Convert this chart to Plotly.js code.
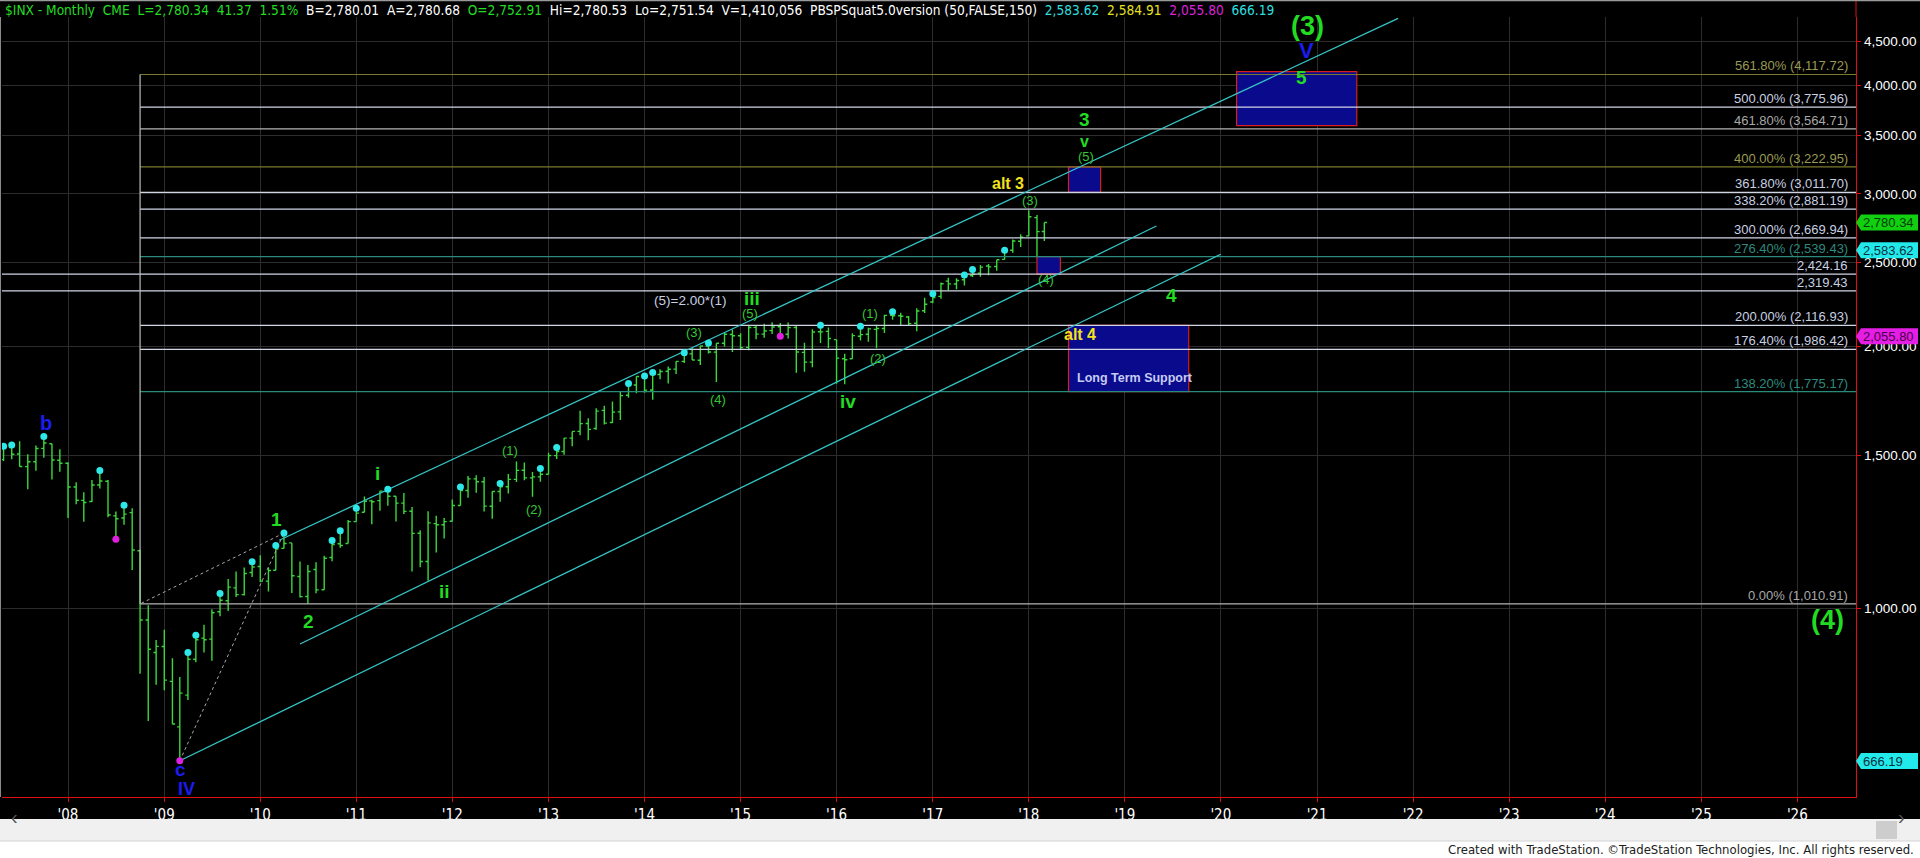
<!DOCTYPE html>
<html><head><meta charset="utf-8">
<script src="https://cdn.plot.ly/plotly-3.0.1.min.js"></script>
<style>html,body{margin:0;padding:0;background:#000;overflow:hidden}#chart{width:1920px;height:858px}</style>
</head><body><div id="chart"></div>
<script>
// ---------- DATA ----------
const firstMonth = [2007, 5];
const openP = [1482.37,1530.62,1504.66,1455.18,1473.96,1527.29,1545.79,1479.63,
1467.97,1378.60,1330.45,1326.41,1385.97,1399.62,1276.69,1269.42,1287.83,1164.17,968.67,888.61,
902.99,823.09,729.57,793.59,872.74,923.26,920.82,990.22,1019.52,1054.91,1036.18,1098.89,
1116.56,1073.89,1105.36,1171.23,1188.58,1087.30,1031.10,1107.53,1049.72,1143.49,1185.71,1186.60,
1257.62,1289.14,1328.64,1329.48,1365.21,1345.20,1320.64,1292.59,1219.12,1131.21,1251.00,1246.91,
1258.86,1312.45,1365.90,1408.47,1397.86,1309.87,1362.33,1379.32,1406.54,1440.90,1412.20,1416.18,
1426.19,1498.11,1514.68,1569.18,1597.55,1631.71,1609.78,1689.42,1635.95,1682.41,1758.70,1806.55,
1845.86,1782.68,1857.68,1873.96,1884.39,1923.87,1962.29,1929.80,2004.07,1971.44,2018.21,2065.78,
2058.90,1996.67,2105.23,2067.63,2087.38,2108.64,2067.00,2104.49,1970.09,1919.65,2080.76,2082.93,
2038.20,1936.94,1937.09,2056.62,2067.17,2093.94,2099.34,2173.15,2171.33,2164.33,2128.68,2200.17,
2251.57,2285.59,2380.13,2362.34,2388.50,2415.65,2431.39,2477.10,2474.42,2521.20,2583.21,2645.10,
2683.73,2816.45,2715.22];
const highP = [1535.56,1540.56,1555.90,1503.89,1538.74,1576.09,1545.79,1523.57,
1471.77,1396.02,1359.68,1404.06,1440.24,1404.05,1292.17,1313.15,1303.04,1167.03,1007.51,918.85,
943.85,875.01,832.98,888.70,930.17,956.23,996.68,1039.47,1080.15,1101.36,1113.69,1130.38,
1150.45,1112.42,1180.16,1219.80,1188.58,1131.23,1120.95,1129.24,1148.90,1196.14,1227.08,1262.60,
1302.67,1344.07,1332.28,1364.56,1370.58,1345.20,1356.48,1307.38,1229.29,1292.66,1277.55,1269.37,
1333.47,1378.04,1419.15,1422.38,1415.32,1363.46,1391.74,1426.68,1474.51,1470.96,1434.27,1448.00,
1509.94,1530.94,1570.28,1597.57,1687.18,1654.19,1698.78,1709.67,1729.86,1775.22,1813.55,1849.44,
1850.84,1867.92,1883.97,1897.28,1924.03,1968.17,1991.39,2005.04,2019.26,2018.19,2075.76,2093.55,
2072.36,2119.59,2117.52,2125.92,2134.72,2129.87,2132.82,2112.66,2020.86,2094.32,2116.48,2104.27,
2038.20,1962.96,2072.21,2111.05,2103.48,2120.55,2177.09,2193.81,2187.87,2169.60,2214.10,2277.53,
2300.99,2371.54,2400.98,2398.16,2418.71,2453.82,2484.04,2490.87,2519.44,2582.98,2657.74,2694.97,
2872.87,2835.96,2780.53];
const lowP = [1476.70,1484.18,1454.25,1370.60,1439.29,1489.56,1406.10,1435.65,
1270.05,1316.75,1256.98,1324.35,1373.07,1272.00,1200.44,1247.45,1106.42,839.80,741.02,815.69,
804.22,734.52,666.79,783.32,866.10,888.86,869.32,978.51,991.97,1029.38,1033.38,1085.89,
1071.59,1044.50,1105.36,1170.69,1040.78,1028.33,1010.91,1039.70,1049.72,1131.87,1173.00,1186.60,
1257.62,1289.14,1249.05,1294.70,1311.80,1258.07,1282.86,1101.54,1114.22,1074.77,1158.66,1202.37,
1258.86,1312.45,1340.03,1357.38,1291.98,1266.74,1325.41,1354.65,1396.56,1403.28,1343.35,1398.11,
1426.19,1485.01,1501.48,1536.03,1581.28,1560.33,1604.57,1627.47,1633.41,1646.47,1746.20,1767.99,
1770.45,1737.92,1834.44,1814.36,1859.79,1915.98,1930.67,1904.78,1964.04,1820.66,2001.01,1972.56,
1988.12,1980.90,2039.69,2048.38,2067.93,2056.32,2044.02,1867.01,1871.91,1893.70,2019.39,1993.26,
1812.29,1810.10,1937.09,2033.80,2025.91,1991.68,2074.02,2147.58,2119.12,2114.72,2083.79,2187.44,
2245.13,2271.65,2322.25,2328.95,2352.72,2405.70,2407.70,2417.35,2446.55,2520.40,2566.17,2605.52,
2682.36,2532.69,2647.32];
const closeP = [1530.62,1503.35,1455.27,1473.99,1526.75,1549.38,1481.14,1468.36,
1378.55,1330.63,1322.70,1385.59,1400.38,1280.00,1267.38,1282.83,1166.36,968.75,896.24,903.25,
825.88,735.09,797.87,872.81,919.14,919.32,987.48,1020.62,1057.08,1036.19,1095.63,1115.10,
1073.87,1104.49,1169.43,1186.69,1089.41,1030.71,1101.60,1049.33,1141.20,1183.26,1180.55,1257.64,
1286.12,1327.22,1325.83,1363.61,1345.20,1320.64,1292.28,1218.89,1131.42,1253.30,1246.96,1257.60,
1312.41,1365.68,1408.47,1397.91,1310.33,1362.16,1379.32,1406.58,1440.67,1412.16,1416.18,1426.19,
1498.11,1514.68,1569.19,1597.57,1630.74,1606.28,1685.73,1632.97,1681.55,1756.54,1805.81,1848.36,
1782.59,1859.45,1872.34,1883.95,1923.57,1960.23,1930.67,2003.37,1972.29,2018.05,2067.56,2058.90,
1994.99,2104.50,2067.89,2085.51,2107.39,2063.11,2103.84,1972.18,1920.03,2079.36,2080.41,2043.94,
1940.24,1932.23,2059.74,2065.30,2096.95,2098.86,2173.60,2170.95,2168.27,2126.15,2198.81,2238.83,
2278.87,2363.64,2362.72,2384.20,2411.80,2423.41,2470.30,2471.65,2519.36,2575.26,2647.58,2673.61,
2823.81,2713.83,2780.34];

const cyanDotMonths = ['2007-05','2007-06','2007-10','2008-05','2008-08','2009-04','2009-05','2009-08',
'2009-12','2010-03','2010-04','2010-10','2010-11','2011-01','2011-05','2012-02','2012-07','2012-12',
'2013-02','2013-11','2014-01','2014-02','2014-06','2014-09','2015-11','2016-04','2016-08','2017-01',
'2017-05','2017-06','2017-10'];
const magentaDotMonths = ['2008-07','2009-03','2015-06'];

const fibValues = [4117.72,3775.96,3564.71,3222.95,3011.70,2881.19,2669.94,2539.43,2424.16,2319.43,2116.93,1986.42,1775.17,1010.91];
const fibTexts = ['561.80% (4,117.72)','500.00% (3,775.96)','461.80% (3,564.71)','400.00% (3,222.95)',
'361.80% (3,011.70)','338.20% (2,881.19)','300.00% (2,669.94)','276.40% (2,539.43)','2,424.16','2,319.43',
'200.00% (2,116.93)','176.40% (1,986.42)','138.20% (1,775.17)','0.00% (1,010.91)'];
const fibAnchorDate = '2008-10-01';
const fibFullWidth = [false,false,false,false,false,false,false,false,true,true,false,false,false,false];
const fibKind = ['olive','light','grey','olive','light','light','light','teal','light','light','light','light','teal','grey'];

// boxes: [startDate, endDate, lowPrice, highPrice]
const boxStart = ['2020-03-01','2018-06-01','2018-02-01','2018-06-01'];
const boxEnd   = ['2021-06-01','2018-10-01','2018-05-01','2019-09-01'];
const boxLow   = [3595, 3011.70, 2424.16, 1775.17];
const boxHigh  = [4150, 3222.95, 2539.43, 2116.93];

// channel lines
const chanStartDate = ['2010-03-14','2010-06-01','2009-03-01'];
const chanStartPrice = [1197, 909, 666.79];
const chanEndDate = ['2021-11-05','2019-05-01','2020-01-01'];
const chanEndPrice = [4778, 2755, 2556];

// dotted extension legs A->B, B->C
const legDates = ['2009-03-01','2010-04-01','2008-10-01'];
const legPrices = [666.79, 1219.80, 1010.91];

// wave labels
const labelText  = ['(3)','V','5','3','v','(5)','alt 3','(3)','(4)','4','alt 4','Long Term Support','(5)=2.00*(1)',
'iii','(5)','(3)','(4)','iv','(1)','(2)','(1)','(2)','i','ii','1','2','b','c','IV','(4)'];
const labelDate  = ['2020-11-24','2020-11-20','2020-11-01','2018-08-02','2018-08-02','2018-08-07','2017-10-14','2018-01-06',
'2018-03-08','2019-06-29','2018-07-16','2019-02-08','2014-06-23','2015-02-12','2015-02-06','2014-07-09','2014-10-08',
'2016-02-12','2016-05-08','2016-06-08','2012-08-07','2012-11-06','2011-03-24','2011-12-04','2010-03-04','2010-07-02',
'2007-10-08','2009-03-03','2009-03-27','2026-04-26'];
const labelPrice = [4680,4385,4085,3650,3447,3312,3080,2951,2393,2291,2067,1839,2259,2274,2185,2076,1739,1729,2185,1940,
1520,1299,1430,1044,1263,964,1635,651,618,969];
const labelKind  = ['big','blueV','wave','wave','waveV','sub','alt','sub','sub','wave','alt','lts','note','wave','sub','sub','sub',
'wave','sub','sub','sub','sub','wave','wave','wave','wave','blue','blueC','blueIV','big'];

const yTickVals = [1000,1500,2000,2500,3000,3500,4000,4500];
const yTickText = ['1,000.00','1,500.00','2,000.00','2,500.00','3,000.00','3,500.00','4,000.00','4,500.00'];
const xTickYears = [2008,2009,2010,2011,2012,2013,2014,2015,2016,2017,2018,2019,2020,2021,2022,2023,2024,2025,2026];

const tagValues = [2780.34, 2583.62, 2055.80, 666.19];
const tagText = ['2,780.34','2,583.62','2,055.80','666.19'];
const tagKind = ['green','cyan','magenta','cyan'];

const headerParts = [
 ['$INX - Monthly\u00a0\u00a0CME\u00a0\u00a0L=2,780.34\u00a0\u00a041.37\u00a0\u00a01.51%','g'],
 ['B=2,780.01\u00a0\u00a0A=2,780.68','w'],
 ['O=2,752.91','g'],
 ['Hi=2,780.53\u00a0\u00a0Lo=2,751.54\u00a0\u00a0V=1,410,056\u00a0\u00a0PBSPSquat5.0version (50,FALSE,150)','w'],
 ['2,583.62','c'],['2,584.91','y'],['2,055.80','m'],['666.19','c']];
const footerText = 'Created with TradeStation. ©TradeStation Technologies, Inc. All rights reserved.';

// ---------- LAYOUT CONSTANTS ----------
const W=1920,H=858, ML=2, MR=64, MT=17, MB=61;
const PW=W-ML-MR, PH=H-MT-MB;
const XR=['2007-04-25','2026-08-12'];
const YR=[2.78226, 3.68088];
const NARROW="'Liberation Sans Narrow','Arial Narrow','DejaVu Sans Condensed',sans-serif";
const ARIAL="'Liberation Sans',Arial,sans-serif";
const pyPix = p => (H-MB-p)/PH;
const pxPix = p => (p-ML)/PW;
const pyVal = v => (Math.log10(v)-YR[0])/(YR[1]-YR[0]);
function fitSize(text, family, targetW){
  const c=document.createElement('canvas').getContext('2d');
  c.font='100px '+family;
  return 100*targetW/c.measureText(text).width;
}
const SEP='\u00a0\u00a0';
const headerSize = 13.6;
const footerSize = Math.min(15, fitSize(footerText, NARROW, 466));

const months = openP.map((_,i)=>{const t=firstMonth[1]-1+i; const y=firstMonth[0]+Math.floor(t/12); const m=t%12+1; return y+'-'+String(m).padStart(2,'0')+'-01';});
const idxOf = s => months.indexOf(s+'-01');

const traces=[];
for(let i=0;i<boxStart.length;i++){
  traces.push({type:'scatter',mode:'lines',x:[boxStart[i],boxEnd[i],boxEnd[i],boxStart[i],boxStart[i]],
   y:[boxLow[i],boxLow[i],boxHigh[i],boxHigh[i],boxLow[i]],fill:'toself',fillcolor:'#0a0a8c',
   line:{color:'#d81e1e',width:1.2},hoverinfo:'skip'});
}
const fibLineColor={olive:'#7a7a2c',light:'#d0d6e6',grey:'#b4b4b4',teal:'#2a8a7c'};
const fibTextColor={olive:'#9a9a52',light:'#c8d0e2',grey:'#a8a8a8',teal:'#2e8a7e'};
for(let i=0;i<fibValues.length;i++){
  traces.push({type:'scatter',mode:'lines',x:[fibFullWidth[i]?XR[0]:fibAnchorDate,XR[1]],y:[fibValues[i],fibValues[i]],
   line:{color:fibLineColor[fibKind[i]],width:1.2},hoverinfo:'skip'});
}
traces.push({type:'scatter',mode:'lines',x:[fibAnchorDate,fibAnchorDate],y:[fibValues[fibValues.length-1],fibValues[0]],
  line:{color:'#bcbcbc',width:1.2},hoverinfo:'skip'});
traces.push({type:'scatter',mode:'lines',x:legDates.slice(0,2),y:legPrices.slice(0,2),line:{color:'#a8a8a8',width:1,dash:'dot'},hoverinfo:'skip'});
traces.push({type:'scatter',mode:'lines',x:legDates.slice(1,3),y:legPrices.slice(1,3),line:{color:'#a8a8a8',width:1,dash:'dot'},hoverinfo:'skip'});
for(let i=0;i<chanStartDate.length;i++){
  traces.push({type:'scatter',mode:'lines',x:[chanStartDate[i],chanEndDate[i]],y:[chanStartPrice[i],chanEndPrice[i]],
   line:{color:'#34c4c4',width:1.3},hoverinfo:'skip'});
}
traces.push({type:'ohlc',x:months,open:openP,high:highP,low:lowP,close:closeP,tickwidth:0.36,
  increasing:{line:{color:'#3ad83a',width:1.4}},decreasing:{line:{color:'#3ad83a',width:1.4}},hoverinfo:'skip'});
traces.push({type:'scatter',mode:'markers',x:cyanDotMonths.map(m=>m+'-01'),y:cyanDotMonths.map(m=>highP[idxOf(m)]),
  marker:{color:'#2ee8e8',size:7},hoverinfo:'skip'});
traces.push({type:'scatter',mode:'markers',x:magentaDotMonths.map(m=>m+'-01'),y:magentaDotMonths.map(m=>lowP[idxOf(m)]),
  marker:{color:'#e020e0',size:7},hoverinfo:'skip'});

const ann=[];
const labelStyle={
  big:{size:27,color:'#22dc22',bold:true},
  wave:{size:19,color:'#22dc22',bold:true},
  waveV:{size:16,color:'#22dc22',bold:true},
  sub:{size:13,color:'#34c834',bold:false},
  blue:{size:20,color:'#1c1cee',bold:true},
  blueC:{size:19,color:'#1c1cee',bold:true},
  blueIV:{size:18,color:'#1c1cee',bold:true},
  blueV:{size:22,color:'#1c1cee',bold:true},
  alt:{size:16,color:'#f2e21e',bold:true},
  lts:{size:12.5,color:'#c4ccf4',bold:true},
  note:{size:13.5,color:'#c8d0e2',bold:false}
};
for(let i=0;i<labelText.length;i++){
  const s=labelStyle[labelKind[i]];
  ann.push({xref:'x',yref:'y',x:labelDate[i],y:Math.log10(labelPrice[i]),showarrow:false,
    text:s.bold?'<b>'+labelText[i]+'</b>':labelText[i],font:{family:ARIAL,size:s.size,color:s.color},xanchor:'center',yanchor:'middle'});
}
for(let i=0;i<fibValues.length;i++){
  ann.push({xref:'paper',yref:'y',x:1,xshift:-6,y:Math.log10(fibValues[i]),xanchor:'right',yanchor:'bottom',yshift:-1,
   showarrow:false,text:fibTexts[i],font:{family:ARIAL,size:13,color:fibTextColor[fibKind[i]]}});
}
const hdrColor={g:'#22dd22',w:'#ffffff',c:'#2edede',y:'#e6e020',m:'#dc22dc'};
ann.push({xref:'paper',yref:'paper',x:0,xshift:1,y:pyPix(10),xanchor:'left',yanchor:'middle',showarrow:false,
  text:headerParts.map(p=>'<span style="color:'+hdrColor[p[1]]+'">'+p[0]+'</span>').join(SEP),
  font:{family:NARROW,size:headerSize,color:'#fff'}});
const tagBg={green:'#10d010',cyan:'#22eaea',magenta:'#e41ee4'};
const tagFg={green:'#003a00',cyan:'#0a3040',magenta:'#4a004a'};
const shapes=[];
for(let i=0;i<tagValues.length;i++){
  const yc=pyVal(tagValues[i]), hh=8/PH;
  const xt=pxPix(1856), xb=pxPix(1861), xe=pxPix(1918);
  shapes.push({type:'path',xref:'paper',yref:'paper',path:`M${xt},${yc} L${xb},${yc+hh} L${xe},${yc+hh} L${xe},${yc-hh} L${xb},${yc-hh} Z`,
    fillcolor:tagBg[tagKind[i]],line:{width:0}});
  ann.push({xref:'paper',yref:'paper',x:pxPix(1861),y:yc,xanchor:'left',yanchor:'middle',showarrow:false,
    text:tagText[i],font:{family:ARIAL,size:13,color:tagFg[tagKind[i]]}});
}
shapes.push({type:'rect',xref:'paper',yref:'paper',x0:pxPix(0),x1:pxPix(1920),y0:pyPix(841),y1:pyPix(819),fillcolor:'#f0f0f0',line:{width:0}});
shapes.push({type:'rect',xref:'paper',yref:'paper',x0:pxPix(0),x1:pxPix(1920),y0:pyPix(858),y1:pyPix(841),fillcolor:'#ffffff',line:{width:0}});
shapes.push({type:'line',xref:'paper',yref:'paper',x0:pxPix(0),x1:pxPix(1920),y0:pyPix(841),y1:pyPix(841),line:{color:'#d4d4d4',width:1}});
shapes.push({type:'rect',xref:'paper',yref:'paper',x0:pxPix(1876),x1:pxPix(1897),y0:pyPix(839),y1:pyPix(821),fillcolor:'#cdcdcd',line:{width:0}});
shapes.push({type:'line',xref:'paper',yref:'paper',x0:1,x1:1,y0:1,y1:pyPix(0),line:{color:'#e01010',width:1}});
shapes.push({type:'line',xref:'paper',yref:'paper',x0:pxPix(0),x1:pxPix(1920),y0:pyPix(0.5),y1:pyPix(0.5),line:{color:'#9a9a9a',width:1.5}});
shapes.push({type:'line',xref:'paper',yref:'paper',x0:pxPix(0.5),x1:pxPix(0.5),y0:0,y1:1,line:{color:'#8a8a8a',width:1}});
ann.push({xref:'paper',yref:'paper',x:pxPix(9),y:pyPix(830),showarrow:false,text:'‹',font:{family:ARIAL,size:20,color:'#555'}});
ann.push({xref:'paper',yref:'paper',x:pxPix(1907),y:pyPix(830),showarrow:false,text:'›',font:{family:ARIAL,size:20,color:'#555'}});
ann.push({xref:'paper',yref:'paper',x:pxPix(1916),y:pyPix(849.5),xanchor:'right',yanchor:'middle',showarrow:false,
  text:footerText,font:{family:NARROW,size:footerSize,color:'#202020'}});

const layout={
  width:W,height:H,paper_bgcolor:'#000',plot_bgcolor:'#000',showlegend:false,
  margin:{l:ML,r:MR,t:MT,b:MB,pad:0},
  xaxis:{type:'date',range:XR,tickmode:'array',tickvals:xTickYears.map(y=>y+'-01-01'),
    ticktext:xTickYears.map(y=>"'"+String(y).slice(2)),showgrid:true,gridcolor:'#2c2c2c',gridwidth:1,
    showline:true,linecolor:'#e01010',linewidth:1.2,ticks:'outside',ticklen:4,tickcolor:'#e01010',
    tickfont:{family:NARROW,size:15,color:'#ffffff'},zeroline:false,rangeslider:{visible:false},fixedrange:true},
  yaxis:{type:'log',range:YR,side:'right',tickmode:'array',tickvals:yTickVals,ticktext:yTickText,
    showgrid:true,gridcolor:'#2c2c2c',gridwidth:1,showline:true,linecolor:'#e01010',linewidth:1.2,
    ticks:'outside',ticklen:4,tickcolor:'#e01010',tickfont:{family:ARIAL,size:13.5,color:'#ffffff'},zeroline:false,fixedrange:true},
  annotations:ann,shapes:shapes,hovermode:false
};
Plotly.newPlot('chart',traces,layout,{displayModeBar:false,staticPlot:true});
</script></body></html>
